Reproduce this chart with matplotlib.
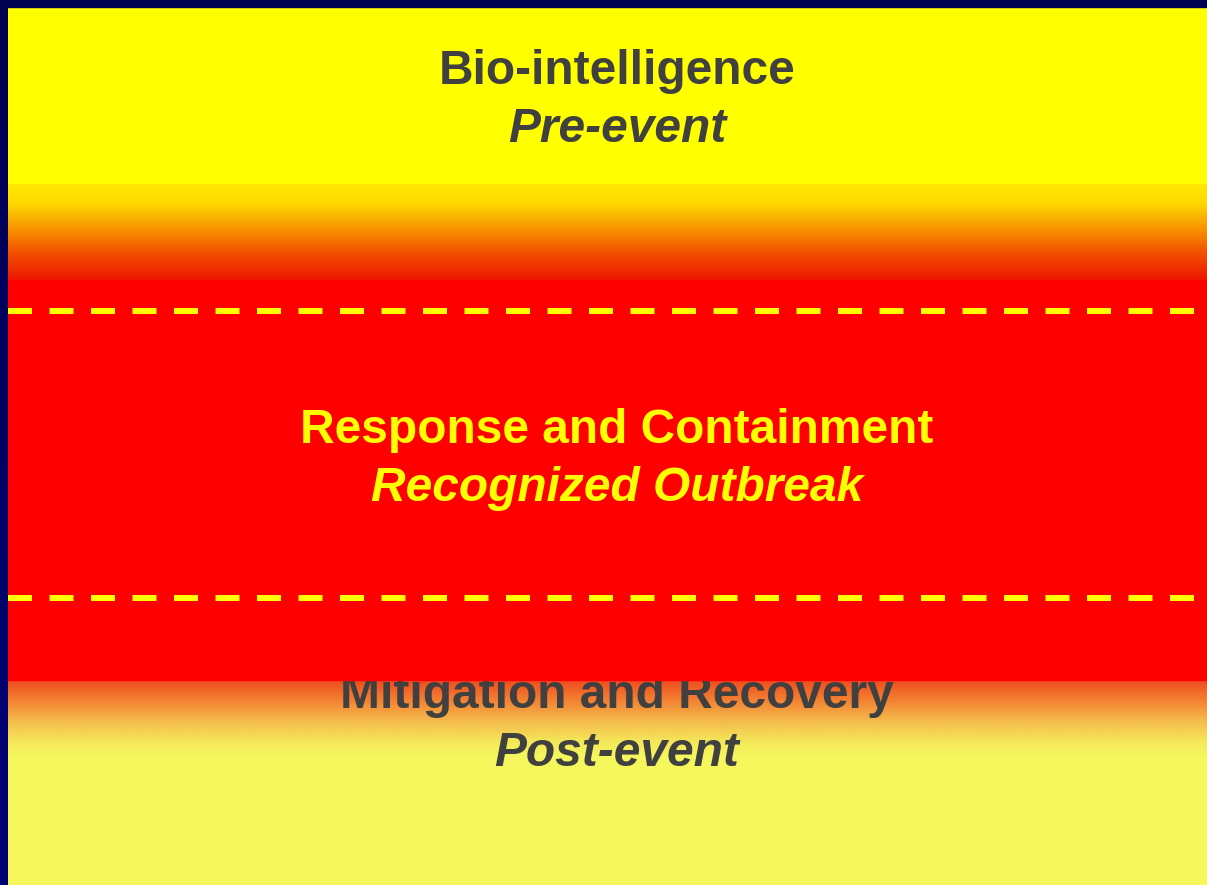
import numpy as np
import matplotlib.pyplot as plt
from matplotlib.colors import LinearSegmentedColormap

# Etiquetas de las tres fases
titles = ['Bio-intelligence', 'Response and Containment', 'Mitigation and Recovery']
subtitles = ['Pre-event', 'Recognized Outbreak', 'Post-event']
text_colors = ['#404040', '#ffff00', '#404040']
baselines = [84, 443, 708]

# Bandas (en pixeles, de arriba hacia abajo)
top_band = (7, 184)
fade_in = (184, 280)
red_band = (280, 680)
fade_out = (680, 756)
dash_rows = [311, 598]

# Paradas de color de los degradados
fade_in_stops = [(0.0, (255, 232, 0)), (0.2, (253, 216, 0)), (0.48, (247, 144, 0)),
                 (0.72, (242, 80, 0)), (1.0, (238, 24, 0))]
fade_out_stops = [(0.0, (240, 75, 30)), (0.27, (243, 130, 50)), (0.53, (244, 185, 75)),
                  (0.8, (244, 230, 90)), (1.0, (245, 247, 92))]

W, H = 1207, 885
fig = plt.figure(figsize=(W / 100, H / 100), dpi=100)
ax = fig.add_axes([0, 0, 1, 1])
ax.set_xlim(0, W)
ax.set_ylim(H, 0)
ax.axis('off')


def gradient(stops, y0, y1, z):
    cmap = LinearSegmentedColormap.from_list(
        'g', [(t, np.array(c) / 255) for t, c in stops])
    img = np.linspace(0, 1, 256).reshape(-1, 1)
    ax.imshow(img, cmap=cmap, extent=(0, W, y1, y0), aspect='auto',
              interpolation='bilinear', zorder=z)


# Fondo
ax.add_patch(plt.Rectangle((0, 0), W, H, color='#f5f75c', zorder=0))
ax.add_patch(plt.Rectangle((0, top_band[0]), W, top_band[1] - top_band[0],
                           color='#ffff00', zorder=1))
gradient(fade_in_stops, fade_in[0], fade_in[1], 1)
gradient(fade_out_stops, fade_out[0], fade_out[1], 1)

# Banda roja (tapa parte del texto inferior)
ax.add_patch(plt.Rectangle((0, red_band[0]), W, red_band[1] - red_band[0],
                           color='#ff0000', zorder=3))

# Lineas discontinuas
plt.rcParams['lines.scale_dashes'] = False
for y in dash_rows:
    ax.plot([8, W], [y, y], color='#ffff00', lw=4.3, dashes=(24 * 0.72, 17.5 * 0.72),
            solid_capstyle='butt', dash_capstyle='butt', zorder=4)

# Textos
for i in range(3):
    z = 5 if i != 2 else 2
    ax.text(617, baselines[i], titles[i], ha='center', va='baseline',
            fontsize=34.5, fontweight='bold', family='Liberation Sans',
            color=text_colors[i], zorder=z)
    ax.text(617, baselines[i] + 58, subtitles[i], ha='center', va='baseline',
            fontsize=34.5, fontweight='bold', style='italic', family='Liberation Sans',
            color=text_colors[i], zorder=z)

# Marco azul oscuro
ax.add_patch(plt.Rectangle((0, 0), W, 7, color='#000050', zorder=6))
ax.imshow(np.linspace(0, 1, 256).reshape(-1, 1),
          cmap=LinearSegmentedColormap.from_list('b', ['#000050', '#000078']),
          extent=(0, 8, H, 0), aspect='auto', zorder=6)
ax.set_xlim(0, W)
ax.set_ylim(H, 0)

fig.savefig('out.png', dpi=100)
